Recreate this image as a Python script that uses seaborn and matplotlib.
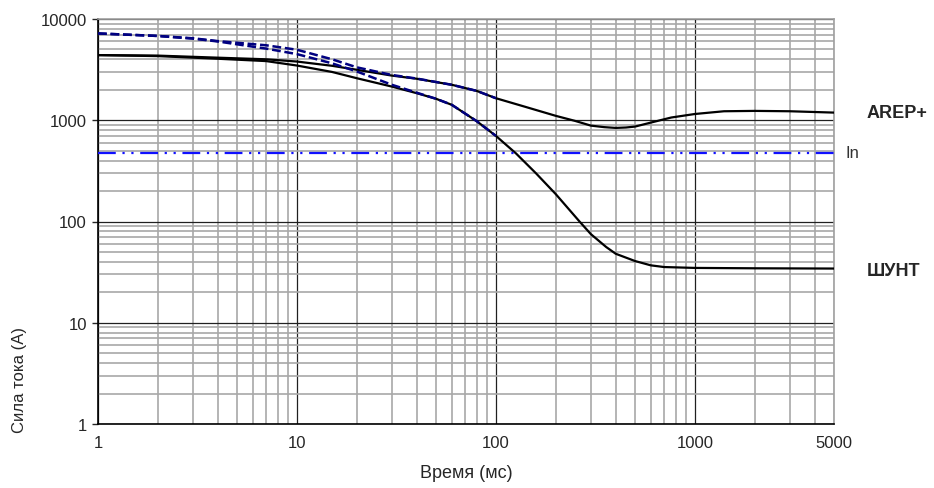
import numpy as np
import pandas as pd
import seaborn as sns
import matplotlib
matplotlib.use("Agg")
import matplotlib.pyplot as plt
from matplotlib.ticker import FixedLocator, FixedFormatter, NullFormatter, LogLocator

# values (time in ms, current in A)
arep_t = [1, 2, 4, 7, 10, 15, 20, 30, 40, 60, 80, 100, 139, 200, 250, 300, 350, 400,
          450, 500, 600, 760, 1000, 1400, 2000, 3000, 5000]
arep_i = [4400, 4350, 4150, 4000, 3800, 3450, 3150, 2760, 2570, 2240, 1950, 1650, 1365,
          1105, 985, 885, 855, 840, 848, 866, 948, 1064, 1153, 1227, 1237, 1227, 1190]

shunt_t = [1, 2, 4, 7, 10, 15, 20, 30, 40, 50, 60, 80, 100, 126, 159, 200, 263, 300,
           358, 400, 500, 600, 700, 1000, 2000, 5000]
shunt_i = [4400, 4300, 4050, 3840, 3470, 3000, 2600, 2150, 1850, 1630, 1420, 980, 700,
           471, 299, 186, 100, 75, 56, 48, 40.7, 36.9, 35.5, 34.8, 34.5, 34.3]

arep_open_t = [1, 2, 3, 4, 7, 10, 15, 20, 30, 40, 60, 80, 100]
arep_open_i = [7200, 6800, 6450, 6050, 5500, 4970, 4000, 3330, 2800, 2580, 2240, 1950, 1650]

shunt_open_t = [1, 2, 3, 4, 7, 10, 15, 20, 30, 40, 50, 60, 80, 100]
shunt_open_i = [7200, 6800, 6400, 6000, 5100, 4500, 3650, 3030, 2240, 1870, 1630, 1420, 980, 700]

in_level = 470

x_ticks = [1, 10, 100, 1000, 5000]
x_labels = ["1", "10", "100", "1000", "5000"]
y_ticks = [1, 10, 100, 1000, 10000]
y_labels = ["1", "10", "100", "1000", "10000"]

sns.set_style("white")
narrow = ["Liberation Sans Narrow", "Liberation Sans", "DejaVu Sans"]
plt.rcParams["font.family"] = ["Liberation Sans", "DejaVu Sans"]

fig = plt.figure(figsize=(9.34, 4.89), dpi=100)
ax = fig.add_axes([98 / 934, 1 - 425 / 489, (834 - 98) / 934, (425 - 20) / 489])

ax.set_xscale("log")
ax.set_yscale("log")

navy = "#000080"
sns.lineplot(x=arep_t, y=arep_i, ax=ax, color="black", linewidth=1.6, zorder=3)
sns.lineplot(x=shunt_t, y=shunt_i, ax=ax, color="black", linewidth=1.6, zorder=3)
sns.lineplot(x=arep_open_t, y=arep_open_i, ax=ax, color=navy, linewidth=1.8,
             linestyle=(0, (3.5, 1.5)), zorder=4)
sns.lineplot(x=shunt_open_t, y=shunt_open_i, ax=ax, color=navy, linewidth=1.8,
             linestyle=(0, (3.5, 1.5)), zorder=4)
ax.axhline(in_level, color="#1010ff", linewidth=1.6,
           linestyle=(0, (8, 3, 1, 3, 1, 3)), zorder=4)

ax.set_xlim(1, 5000)
ax.set_ylim(1, 10000)

ax.xaxis.set_major_locator(FixedLocator(x_ticks))
ax.xaxis.set_major_formatter(FixedFormatter(x_labels))
ax.xaxis.set_minor_locator(LogLocator(base=10, subs=range(2, 10), numticks=20))
ax.xaxis.set_minor_formatter(NullFormatter())
ax.yaxis.set_major_locator(FixedLocator(y_ticks))
ax.yaxis.set_major_formatter(FixedFormatter(y_labels))
ax.yaxis.set_minor_locator(LogLocator(base=10, subs=range(2, 10), numticks=20))
ax.yaxis.set_minor_formatter(NullFormatter())

ax.grid(which="minor", color="#a8a8a8", linewidth=1.2)
ax.grid(which="major", color="#202020", linewidth=0.9)
ax.set_axisbelow(True)

ax.tick_params(axis="x", which="both", length=0, pad=8, labelsize=12)
ax.tick_params(axis="y", which="major", length=4, width=1, direction="out",
               left=True, pad=4, labelsize=12)
ax.tick_params(axis="y", which="minor", length=0)
for lab in ax.get_xticklabels() + ax.get_yticklabels():
    lab.set_family(narrow)

for side in ["left", "bottom"]:
    ax.spines[side].set_color("black")
    ax.spines[side].set_linewidth(1.2)
for side in ["top", "right"]:
    ax.spines[side].set_color("#a0a0a0")
    ax.spines[side].set_linewidth(1.2)

ax.set_xlabel("Время (мс)", fontsize=13, labelpad=10)
ax.set_ylabel("Сила тока (A)", fontsize=12)
ax.yaxis.set_label_coords(-0.096, 0.11)

ax.text(7300, 1200, "AREP+", fontsize=13, fontweight="bold", family=narrow,
        va="center", ha="left", clip_on=False)
ax.text(5700, 480, "In", fontsize=12, family=narrow,
        va="center", ha="left", clip_on=False, color="#333333")
ax.text(7300, 32.5, "ШУНТ", fontsize=13, fontweight="bold", family=narrow,
        va="center", ha="left", clip_on=False)

fig.savefig("out.png", dpi=100)
